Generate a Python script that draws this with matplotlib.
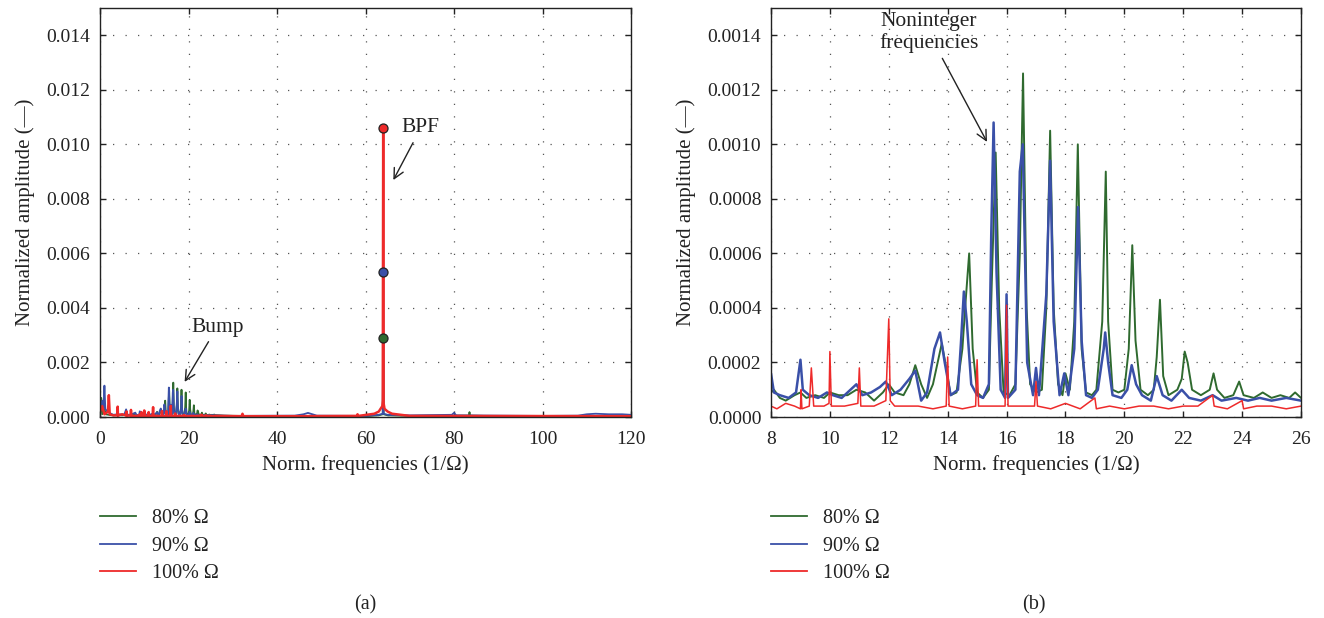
import numpy as np
import matplotlib
matplotlib.use("Agg")
import matplotlib.pyplot as plt
from matplotlib.lines import Line2D
from matplotlib.ticker import FormatStrFormatter

plt.rcParams['font.family'] = ['Liberation Serif', 'DejaVu Serif']

# blade passing frequency and its amplitude for each speed
bpf_freq = 64.0
bpf_amp_80 = 0.0029
bpf_amp_90 = 0.0053
bpf_amp_100 = 0.0106

labels = ["80% Ω", "90% Ω", "100% Ω"]
colors = ["#2f6a2f", "#3a50a8", "#ee2a2a"]

# spectra read as (frequency, amplitude) pairs
spec_80 = [
    (0.0, 0.0001), (0.3, 0.0007), (0.5, 0.0001), (1.0, 0.0003), (1.3, 0.0001),
    (2.0, 0.00008), (3.0, 0.00006), (4.0, 0.00007), (5.0, 0.00006), (6.0, 0.00008),
    (7.0, 0.00006), (7.5, 0.00008),
    (8.0, 0.00009), (8.1, 0.0001), (8.3, 0.00007), (8.5, 0.00006), (8.8, 0.00008),
    (9.0, 0.00009), (9.2, 0.00007), (9.5, 0.00008), (9.8, 0.00007), (10.0, 0.00009),
    (10.3, 0.00008), (10.6, 0.00008), (10.9, 0.0001), (11.2, 0.00009), (11.5, 0.00006),
    (11.8, 0.00009), (12.0, 0.00012), (12.2, 0.00009), (12.5, 0.00008), (12.7, 0.00012),
    (12.9, 0.00019), (13.1, 0.00012), (13.3, 0.00007), (13.5, 0.00012), (13.8, 0.00027),
    (13.95, 0.00018), (14.1, 0.00008), (14.3, 0.00009), (14.5, 0.00025), (14.6, 0.00041),
    (14.73, 0.0006), (14.85, 0.00025), (15.0, 0.00009), (15.2, 0.00007), (15.4, 0.0001),
    (15.5, 0.0005), (15.63, 0.00097), (15.75, 0.0004), (15.9, 0.00009), (16.1, 0.00008),
    (16.3, 0.00012), (16.45, 0.0006), (16.56, 0.00126), (16.68, 0.0004), (16.8, 0.00012),
    (17.0, 0.00009), (17.2, 0.0001), (17.35, 0.0004), (17.48, 0.00105), (17.6, 0.0004),
    (17.75, 0.00012), (17.9, 0.00008), (18.0, 0.00016), (18.15, 0.0001), (18.3, 0.00035),
    (18.42, 0.001), (18.55, 0.00025), (18.7, 0.00009), (18.9, 0.00008), (19.05, 0.0001),
    (19.25, 0.00035), (19.37, 0.0009), (19.45, 0.00035), (19.6, 0.0001), (19.8, 0.00009),
    (20.0, 0.0001), (20.15, 0.00025), (20.27, 0.00063), (20.38, 0.00028), (20.55, 0.0001),
    (20.8, 0.00008), (21.0, 0.0001), (21.1, 0.00022), (21.21, 0.00043), (21.32, 0.00015),
    (21.5, 0.00008), (21.8, 0.0001), (21.95, 0.00014), (22.05, 0.00024), (22.15, 0.0002),
    (22.3, 0.0001), (22.6, 0.00008), (22.9, 0.0001), (23.03, 0.00016), (23.15, 0.0001),
    (23.4, 0.00007), (23.7, 0.00008), (23.9, 0.00013), (24.05, 0.00008), (24.4, 0.00007),
    (24.7, 0.00009), (25.0, 0.00007), (25.3, 0.00008), (25.6, 0.00007), (25.8, 0.00009),
    (26.0, 0.00007),
    (28.0, 0.00005), (35.0, 0.00003), (45.0, 0.00003), (60.0, 0.00003), (63.0, 0.00006),
    (63.9, 0.0001), (bpf_freq, bpf_amp_80), (64.1, 0.0001), (65.0, 0.00006),
    (70.0, 0.00004), (80.0, 0.00005), (83.4, 0.00005), (83.5, 0.00018), (83.6, 0.00005),
    (90.0, 0.00003), (120.0, 0.00003),
]

spec_90 = [
    (0.0, 0.0005), (0.2, 0.0004), (0.5, 0.0006), (0.8, 0.0003), (1.0, 0.00115),
    (1.2, 0.0003), (1.6, 0.0002), (2.5, 0.00012), (3.0, 0.00008), (4.0, 0.0001),
    (5.5, 0.00009), (5.9, 0.00028), (6.2, 0.00008), (7.0, 0.00009),
    (8.0, 0.00016), (8.1, 0.00009), (8.3, 0.00008), (8.6, 0.00007), (8.85, 0.00009),
    (9.0, 0.00021), (9.08, 0.0001), (9.3, 0.00008), (9.6, 0.00007), (9.9, 0.00009),
    (10.1, 0.00008), (10.4, 0.00007), (10.7, 0.0001), (10.9, 0.00012), (11.1, 0.00008),
    (11.4, 0.00009), (11.7, 0.00011), (11.9, 0.00013), (12.1, 0.00008), (12.4, 0.0001),
    (12.7, 0.00014), (12.9, 0.00017), (13.1, 0.00006), (13.3, 0.00009), (13.55, 0.00025),
    (13.74, 0.00031), (13.9, 0.0002), (14.1, 0.00008), (14.35, 0.0001), (14.45, 0.00027),
    (14.55, 0.00046), (14.65, 0.00035), (14.8, 0.00012), (15.0, 0.00008), (15.2, 0.00007),
    (15.4, 0.00012), (15.48, 0.00067), (15.56, 0.00108), (15.66, 0.00053), (15.8, 0.0001),
    (15.95, 0.00007), (16.0, 0.00045), (16.05, 0.00007), (16.3, 0.0001), (16.45, 0.0009),
    (16.55, 0.001), (16.7, 0.0002), (16.9, 0.00008), (17.0, 0.00018), (17.1, 0.00008),
    (17.35, 0.00045), (17.48, 0.00094), (17.6, 0.00035), (17.8, 0.00008), (17.96, 0.00016),
    (18.1, 0.00008), (18.3, 0.00025), (18.43, 0.00077), (18.55, 0.00028), (18.7, 0.00008),
    (18.9, 0.00007), (19.1, 0.0001), (19.3, 0.00025), (19.35, 0.00031), (19.45, 0.0002),
    (19.6, 0.00008), (19.9, 0.00007), (20.1, 0.0001), (20.25, 0.00019), (20.4, 0.00012),
    (20.6, 0.00008), (20.9, 0.00006), (21.1, 0.00015), (21.3, 0.00008), (21.6, 0.00006),
    (21.95, 0.0001), (22.2, 0.00007), (22.6, 0.00006), (23.0, 0.00008), (23.3, 0.00006),
    (23.8, 0.00007), (24.2, 0.00006), (24.6, 0.00007), (25.0, 0.00006), (25.5, 0.00007),
    (26.0, 0.00006),
    (30.0, 0.00004), (44.0, 0.00005), (46.0, 0.0001), (47.0, 0.00015), (48.0, 0.0001),
    (49.0, 0.00005), (60.0, 0.00004), (63.0, 0.00008), (63.9, 0.00012), (bpf_freq, bpf_amp_90),
    (64.1, 0.00012), (65.0, 0.00008), (70.0, 0.00006), (79.5, 0.00008), (80.0, 0.00015),
    (80.5, 0.00006), (100.0, 0.00004), (108.0, 0.00005), (110.0, 0.0001), (112.0, 0.00012),
    (115.0, 0.0001), (118.0, 0.0001), (120.0, 0.00008),
]

spec_100 = [
    (0.0, 0.0002), (0.5, 0.0004), (1.0, 0.0001), (1.8, 0.0002), (2.0, 0.0008),
    (2.2, 0.0001), (3.0, 0.00006), (3.95, 0.00006), (4.0, 0.00038), (4.05, 0.00005),
    (5.0, 0.0001), (5.95, 0.00005), (6.0, 0.0002), (6.05, 0.00005), (6.95, 0.00005),
    (7.0, 0.00026), (7.05, 0.00005), (7.6, 0.00004),
    (8.0, 0.00004), (8.2, 0.00003), (8.5, 0.00005), (8.8, 0.00004), (9.0, 0.00003),
    (9.02, 0.0001), (9.05, 0.00003), (9.3, 0.00004), (9.37, 0.00018), (9.45, 0.00004),
    (9.8, 0.00004), (9.97, 0.00005), (10.0, 0.00024), (10.05, 0.00004), (10.5, 0.00004),
    (10.95, 0.00005), (11.0, 0.00018), (11.05, 0.00004), (11.5, 0.00004), (11.9, 0.00006),
    (12.0, 0.00036), (12.05, 0.00006), (12.2, 0.00004), (12.5, 0.00004), (13.0, 0.00004),
    (13.5, 0.00003), (13.95, 0.00004), (14.0, 0.00022), (14.05, 0.00004), (14.5, 0.00003),
    (14.95, 0.00004), (15.0, 0.00021), (15.05, 0.00004), (15.5, 0.00004), (15.95, 0.00004),
    (16.0, 0.00041), (16.05, 0.00004), (16.5, 0.00004), (16.95, 0.00004), (17.0, 0.00013),
    (17.05, 0.00004), (17.5, 0.00003), (18.0, 0.00005), (18.5, 0.00003), (19.0, 0.00007),
    (19.05, 0.00003), (19.5, 0.00004), (20.0, 0.00003), (20.5, 0.00004), (21.0, 0.00004),
    (21.5, 0.00003), (22.0, 0.00004), (22.5, 0.00004), (23.0, 0.00008), (23.05, 0.00004),
    (23.5, 0.00003), (24.0, 0.00006), (24.05, 0.00003), (24.5, 0.00004), (25.0, 0.00004),
    (25.5, 0.00003), (26.0, 0.00004),
    (32.0, 0.00003), (32.2, 0.00012), (32.4, 0.00003), (45.0, 0.00003), (58.0, 0.00004),
    (58.2, 0.0001), (58.4, 0.00004), (62.0, 0.00012), (63.0, 0.0002), (63.8, 0.0004),
    (63.9, 0.0006), (bpf_freq, bpf_amp_100), (64.1, 0.0005), (64.3, 0.0003), (65.0, 0.0002),
    (66.0, 0.00012), (68.0, 0.00008), (70.0, 0.00004), (120.0, 0.00003),
]

series = [spec_80, spec_90, spec_100]
widths_a = [1.3, 1.3, 1.8]
widths_b = [1.4, 1.8, 1.1]

fig = plt.figure(figsize=(13.24, 6.18), dpi=100)
ax_a = fig.add_axes([100 / 1324, 1 - 417 / 618, 531 / 1324, 409 / 618])
ax_b = fig.add_axes([771 / 1324, 1 - 417 / 618, 530 / 1324, 409 / 618])


def style_axes(ax):
    ax.grid(True, linestyle=(0, (1, 9)), color='#555555', linewidth=0.9)
    ax.tick_params(direction='in', top=True, right=True, labelsize=14,
                   length=4, width=1.0, colors='#222222', pad=7)
    ax.tick_params(axis='x', pad=10)
    for sp in ax.spines.values():
        sp.set_color('#222222')
        sp.set_linewidth(1.0)
    ax.set_xlabel("Norm. frequencies (1/Ω)", fontsize=15, color='#222222', labelpad=5)
    ax.set_ylabel("Normalized amplitude (—)", fontsize=15, color='#222222', labelpad=8)


for spec, col, lw_a, lw_b in zip(series, colors, widths_a, widths_b):
    arr = np.array(spec)
    ax_a.plot(arr[:, 0], arr[:, 1], color=col, lw=lw_a)
    ax_b.plot(arr[:, 0], arr[:, 1], color=col, lw=lw_b)

# BPF markers
for amp, col in zip([bpf_amp_100, bpf_amp_90, bpf_amp_80], colors[::-1]):
    ax_a.plot([bpf_freq], [amp], 'o', ms=6.5, mfc=col, mec='#222222', mew=0.9, zorder=5)

ax_a.set_xlim(0, 120)
ax_a.set_ylim(0, 0.015)
ax_a.set_xticks(np.arange(0, 121, 20))
ax_a.set_yticks(np.arange(0, 0.0141, 0.002))
ax_a.yaxis.set_major_formatter(FormatStrFormatter('%.3f'))
style_axes(ax_a)

ax_b.set_xlim(8, 26)
ax_b.set_ylim(0, 0.0015)
ax_b.set_xticks(np.arange(8, 27, 2))
ax_b.set_yticks(np.arange(0, 0.00141, 0.0002))
ax_b.yaxis.set_major_formatter(FormatStrFormatter('%.4f'))
style_axes(ax_b)

arrow = dict(arrowstyle='->', color='#222222', lw=1.0, mutation_scale=18)
ax_a.annotate("Bump", xy=(18.8, 0.0012), xytext=(26.5, 0.0033), fontsize=15.5,
              ha='center', va='center', color='#222222', arrowprops=arrow)
ax_a.annotate("BPF", xy=(66.0, 0.0086), xytext=(72.5, 0.0106), fontsize=15.5,
              ha='center', va='center', color='#222222', arrowprops=arrow)
ax_b.annotate("Noninteger\nfrequencies", xy=(15.38, 0.001), xytext=(13.35, 0.00141),
              fontsize=15.5, ha='center', va='center', color='#222222',
              linespacing=1.15, arrowprops=arrow)

# legends underneath each panel
handles = [Line2D([], [], color=c, lw=1.3) for c in colors]
for ax in (ax_a, ax_b):
    ax.legend(handles, labels, loc='upper left', bbox_to_anchor=(0.0, -0.225),
              frameon=False, fontsize=14.5, handlelength=1.8, handletextpad=0.8,
              labelspacing=0.42, borderpad=0, borderaxespad=0, labelcolor='#222222')

fig.text(365 / 1324, 1 - 605 / 618, "(a)", fontsize=14.5, ha='center', va='center',
         color='#222222')
fig.text(1034 / 1324, 1 - 605 / 618, "(b)", fontsize=14.5, ha='center', va='center',
         color='#222222')

fig.savefig("out.png", dpi=100)
